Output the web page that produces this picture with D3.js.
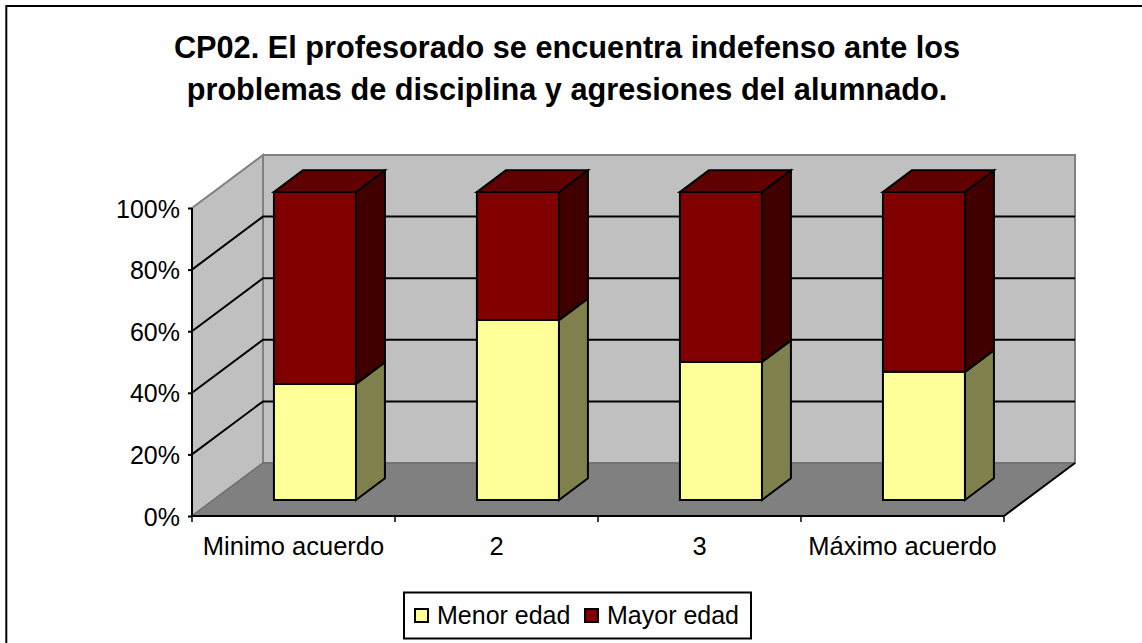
<!DOCTYPE html>
<html>
<head>
<meta charset="utf-8">
<script src="https://cdn.jsdelivr.net/npm/d3@7"></script>
<style>
  html, body { margin: 0; padding: 0; background: #fff; }
  svg { display: block; }
  text { font-family: "Liberation Sans", Arial, sans-serif; fill: #000; }
</style>
</head>
<body>
<div id="chart"></div>
<script>
const titleLines = ["CP02. El profesorado se encuentra indefenso ante los", "problemas de disciplina y agresiones del alumnado."];
const categories = ["Minimo acuerdo", "2", "3", "Máximo acuerdo"];
const seriesNames = ["Menor edad", "Mayor edad"];
const menorEdad = [37.7, 58.4, 44.8, 41.6];
const mayorEdad = [62.3, 41.6, 55.2, 58.4];
const yTicks = [0, 20, 40, 60, 80, 100];

const width = 1142, height = 643;
const rows = categories.map((c, i) => ({ cat: c, "Menor edad": menorEdad[i], "Mayor edad": mayorEdad[i] }));
const stacked = d3.stack().keys(seriesNames)(rows);

const svg = d3.select("#chart").append("svg").attr("width", width).attr("height", height);

// frame only shows on the top and left
svg.append("path").attr("d", "M6.3,643V6H1142").attr("fill", "none").attr("stroke", "#000").attr("stroke-width", 2);

svg.append("g").selectAll("text").data(titleLines).enter().append("text")
    .attr("x", 567)
    .attr("y", (d, i) => 58 + i * 42)
    .attr("text-anchor", "middle")
    .attr("font-size", 30.7)
    .attr("font-weight", "bold")
    .text(d => d);

// scales: x along the front edge, y up the front edge, depth goes into the picture
const x = d3.scaleBand().domain(categories).range([192, 1004]).paddingInner(0.596).paddingOuter(0.298);
const xLabel = d3.scaleBand().domain(categories).range([192, 1004]);
const y = d3.scaleLinear().domain([0, 100]).range([516, 208]);
const depthX = d3.scaleLinear().domain([0, 1]).range([0, 71]);
const depthY = d3.scaleLinear().domain([0, 1]).range([0, -53]);
const barFront = 0.302, barBack = 0.71;

const project = (px, v, t) => [px + depthX(t), y(v) + depthY(t)];
const poly = pts => d3.line()(pts) + "Z";
const xMin = x.range()[0], xMax = x.range()[1];

// walls and floor
svg.append("path")
    .attr("d", poly([project(xMin, 0, 0), project(xMin, 0, 1), project(xMin, 100, 1), project(xMin, 100, 0)]))
    .attr("fill", "#c0c0c0").attr("stroke", "#808080").attr("stroke-width", 2);
svg.append("path")
    .attr("d", poly([project(xMin, 0, 1), project(xMax, 0, 1), project(xMax, 100, 1), project(xMin, 100, 1)]))
    .attr("fill", "#c0c0c0").attr("stroke", "#808080").attr("stroke-width", 2);
svg.append("path")
    .attr("d", poly([project(xMin, 0, 0), project(xMin, 0, 1), project(xMax, 0, 1), project(xMax, 0, 0)]))
    .attr("fill", "#808080").attr("stroke", "#666").attr("stroke-width", 1);
svg.append("path")
    .attr("d", d3.line()([project(xMax, 0, 0), project(xMax, 0, 1)]))
    .attr("stroke", "#000").attr("stroke-width", 2);

// gridlines on both walls
svg.append("g").selectAll("path").data(yTicks.filter(d => d > 0 && d < 100)).enter().append("path")
    .attr("d", d => d3.line()([project(xMin, d, 0), project(xMin, d, 1), project(xMax, d, 1)]))
    .attr("fill", "none").attr("stroke", "#000").attr("stroke-width", 2);

const colors = {
    "Menor edad": { front: "#ffff99", side: "#80804d", top: "#c0c073" },
    "Mayor edad": { front: "#800000", side: "#400000", top: "#600000" }
};

// bars
const bars = svg.append("g").attr("stroke", "#000").attr("stroke-width", 2).attr("stroke-linejoin", "miter");
categories.forEach((cat, i) => {
    const left = x(cat), right = left + x.bandwidth();
    stacked.forEach((layer, li) => {
        const [v0, v1] = layer[i];
        const c = colors[layer.key];
        bars.append("path")
            .attr("d", poly([project(right, v0, barFront), project(right, v0, barBack), project(right, v1, barBack), project(right, v1, barFront)]))
            .attr("fill", c.side);
        bars.append("path")
            .attr("d", poly([project(left, v0, barFront), project(right, v0, barFront), project(right, v1, barFront), project(left, v1, barFront)]))
            .attr("fill", c.front);
        if (li === stacked.length - 1) {
            bars.append("path")
                .attr("d", poly([project(left, v1, barFront), project(right, v1, barFront), project(right, v1, barBack), project(left, v1, barBack)]))
                .attr("fill", c.top);
        }
    });
});

// axes
const yAxis = svg.append("g")
    .attr("transform", "translate(" + xMin + ",0)")
    .call(d3.axisLeft(y).tickValues(yTicks).tickSize(4).tickPadding(8).tickFormat(d => d + "%"));
yAxis.selectAll("text").attr("font-size", 25).attr("dy", "0.36em");
yAxis.selectAll("line, path").attr("stroke", "#000").attr("stroke-width", 2);
yAxis.select("path").attr("d", "M0," + y(100) + "V" + y(0));

const xAxis = svg.append("g")
    .attr("transform", "translate(0," + y(0) + ")")
    .call(d3.axisBottom(xLabel).tickSize(0).tickPadding(21));
xAxis.selectAll("text").attr("font-size", 25.5);
xAxis.select("path").attr("d", "M" + xMin + ",0H" + xMax).attr("stroke", "#000").attr("stroke-width", 2);
xAxis.selectAll("line.sep").data(d3.range(categories.length + 1)).enter().append("line")
    .attr("class", "sep")
    .attr("x1", d => xMin + d * xLabel.step()).attr("x2", d => xMin + d * xLabel.step())
    .attr("y1", 0).attr("y2", 6)
    .attr("stroke", "#000").attr("stroke-width", 1.5);

// legend
const legend = svg.append("g");
legend.append("rect").attr("x", 404).attr("y", 592.5).attr("width", 347).attr("height", 46)
    .attr("fill", "#fff").attr("stroke", "#000").attr("stroke-width", 2);
const legendX = [415, 585];
seriesNames.forEach((name, i) => {
    legend.append("rect").attr("x", legendX[i]).attr("y", 609).attr("width", 13).attr("height", 13)
        .attr("fill", colors[name].front).attr("stroke", "#000").attr("stroke-width", 2);
    legend.append("text").attr("x", legendX[i] + 22).attr("y", 624).attr("font-size", 25).text(name);
});
</script>
</body>
</html>
